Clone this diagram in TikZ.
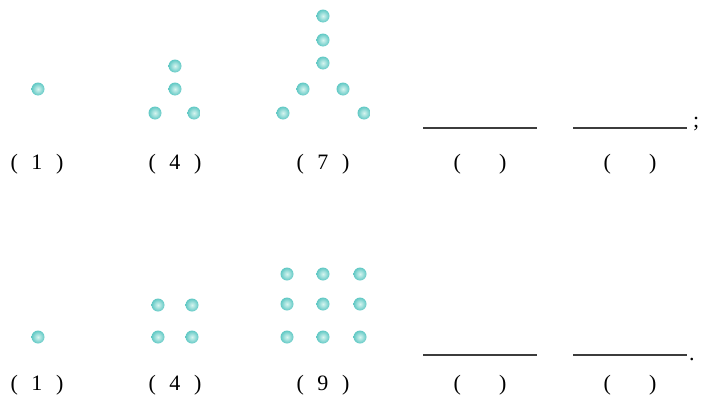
\documentclass[tikz,border=0pt]{standalone}
\usepackage{fontspec}
\setmainfont{Liberation Serif}
\usetikzlibrary{positioning}
\definecolor{dotcyan}{RGB}{96,200,196}
\definecolor{dotlight}{RGB}{215,245,240}
\definecolor{blankline}{RGB}{60,60,60}

\begin{document}
\begin{tikzpicture}[x=1pt,y=-1pt,
    font=\fontsize{22}{24}\selectfont,
    dot/.style={circle,minimum size=13pt,inner sep=0pt,
                shading=radial,inner color=dotlight,outer color=dotcyan},
    caption/.style={inner sep=0pt,anchor=base},
    blank/.style={draw=blankline,line width=1.5pt}]
  \useasboundingbox (0,0) rectangle (702,399);
  % first row: 1, 4, 7
  \node[dot] (t1) at (38,89) {};
  \node[dot] (t2a) at (175,66) {};
  \node[dot] (t2b) at (175,89) {};
  \node[dot] (t2c) at (155,113) {};
  \node[dot] (t2d) at (194,113) {};
  \foreach \y [count=\i] in {16,40,63}
    \node[dot] (t3v\i) at (323,\y) {};
  \node[dot] (t3a) at (303,89) {};
  \node[dot] (t3b) at (343,89) {};
  \node[dot] (t3c) at (283,113) {};
  \node[dot] (t3d) at (364,113) {};
  \node[caption] (tl1) at (37,169) {(\hspace{0.62em}1\hspace{0.62em})};
  \node[caption] (tl2) at (175,169) {(\hspace{0.62em}4\hspace{0.62em})};
  \node[caption] (tl3) at (323,169) {(\hspace{0.62em}7\hspace{0.62em})};
  \draw[blank] (423,128) -- (537,128);
  \draw[blank] (573,128) -- (687,128);
  \node[caption,anchor=base west] (semi) at (693,127) {;};
  \node[caption] (tl4) at (480,169) {(\hspace{0.62em}\phantom{1}\hspace{0.62em})};
  \node[caption] (tl5) at (630,169) {(\hspace{0.62em}\phantom{1}\hspace{0.62em})};
  % second row: 1, 4, 9
  \node[dot] (b1) at (38,337) {};
  \foreach \x in {158,192}
    \foreach \y in {305,337}
      \node[dot] (b2-\x-\y) at (\x,\y) {};
  \foreach \x in {287,323,360}
    \foreach \y in {274,304,337}
      \node[dot] (b3-\x-\y) at (\x,\y) {};
  \node[caption] (bl1) at (37,390) {(\hspace{0.62em}1\hspace{0.62em})};
  \node[caption] (bl2) at (175,390) {(\hspace{0.62em}4\hspace{0.62em})};
  \node[caption] (bl3) at (323,390) {(\hspace{0.62em}9\hspace{0.62em})};
  \draw[blank] (423,355) -- (537,355);
  \draw[blank] (573,355) -- (687,355);
  \node[caption,anchor=base west] (stop) at (689,360) {.};
  \node[caption] (bl4) at (480,390) {(\hspace{0.62em}\phantom{1}\hspace{0.62em})};
  \node[caption] (bl5) at (630,390) {(\hspace{0.62em}\phantom{1}\hspace{0.62em})};
\end{tikzpicture}
\end{document}
